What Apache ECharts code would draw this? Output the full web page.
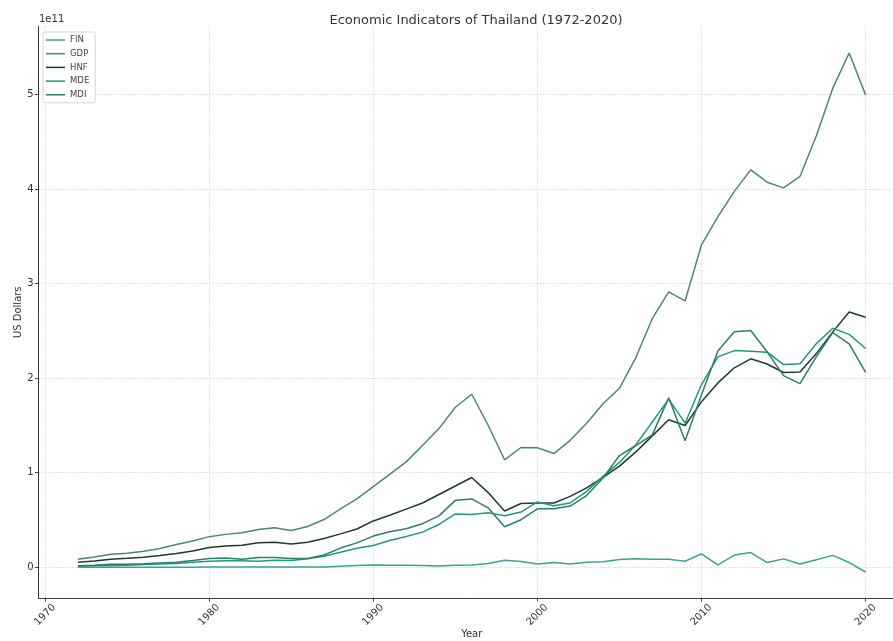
<!DOCTYPE html>
<html>
<head>
<meta charset="utf-8">
<script src="https://cdn.jsdelivr.net/npm/echarts@6/dist/echarts.min.js"></script>
<style>html,body{margin:0;padding:0;background:#fff;}#c{width:893px;height:641px;}</style>
</head>
<body>
<div id="c"></div>
<script>
// Years (x axis)
const years = [1972,1973,1974,1975,1976,1977,1978,1979,1980,1981,1982,1983,1984,1985,1986,1987,1988,1989,1990,1991,1992,1993,1994,1995,1996,1997,1998,1999,2000,2001,2002,2003,2004,2005,2006,2007,2008,2009,2010,2011,2012,2013,2014,2015,2016,2017,2018,2019,2020];
// Series values in billions of US dollars
const FIN = [0.07,0.08,0.19,0.09,0.08,0.11,0.05,0.05,0.19,0.29,0.19,0.35,0.40,0.16,0.26,0.35,1.11,1.78,2.44,2.01,2.11,1.80,1.37,2.07,2.34,3.89,7.32,6.10,3.35,5.07,3.34,5.23,5.86,8.22,8.9,8.6,8.5,6.41,14.3,2.5,12.9,15.6,5.0,8.9,3.4,7.9,12.6,5.0,-5.0];
const GDP = [8.4,10.8,13.7,14.9,17.0,19.8,24.1,27.8,32.4,34.8,36.6,40.0,41.8,38.9,43.1,50.5,61.7,72.3,85.3,98.2,111.5,128.9,146.7,169.3,183.0,150.2,113.7,126.7,126.4,120.3,134.3,152.3,172.9,189.3,221.8,262.9,291.4,281.7,341.1,370.8,397.6,420.3,407.3,401.3,413.4,456.4,506.8,544.0,499.7];
const HNF = [5.3,6.7,8.5,9.5,10.7,12.4,14.6,17.2,21.0,22.5,23.2,26.0,26.5,24.5,26.5,30.5,35.3,40.5,49.0,55.0,61.5,68.0,77.0,86.0,95.0,79.0,59.5,67.5,68.0,68.0,75.0,84.0,95.0,107.0,122.0,139.0,156.0,150.0,175.0,195.0,211.0,220.5,215.0,206.0,206.5,226.0,249.0,270.0,264.5];
const MDE = [1.1,1.6,2.5,2.2,3.0,3.5,4.1,5.3,6.5,7.0,7.0,6.4,7.4,7.1,8.9,11.7,16.0,20.1,23.1,28.4,32.5,37.2,45.3,56.4,55.9,57.6,54.5,58.4,69.1,65.1,68.1,80.3,96.2,110.9,129.7,153.6,177.8,152.4,193.3,222.6,229.2,228.5,227.5,214.4,215.3,236.6,252.9,246.3,231.4];
const MDI = [1.5,2.1,3.1,3.3,3.6,4.6,5.4,7.2,9.2,9.9,8.6,10.3,10.4,9.2,9.2,13.0,20.3,25.8,33.0,37.6,40.7,46.1,54.4,70.8,72.3,62.9,42.9,50.3,61.9,62.0,64.7,75.8,94.4,118.2,128.8,140.0,179.2,133.8,182.4,228.8,249.1,250.4,227.9,202.7,194.2,222.8,248.2,236.3,206.2];
// Tick labels
const xTicks = [1970,1980,1990,2000,2010,2020];
const yTicks = [0,1,2,3,4,5]; // in units of 1e11

const seriesNames = ['FIN','GDP','HNF','MDE','MDI'];
const seriesData = {FIN, GDP, HNF, MDE, MDI};
const colors = {FIN:'#35a596', GDP:'#4a8779', HNF:'#1c3a31', MDE:'#209a80', MDI:'#2e7d6d'};

const font = 'DejaVu Sans';
const chart = echarts.init(document.getElementById('c'), null, {renderer:'canvas'});

const series = seriesNames.map(n => ({
  name: n,
  type: 'line',
  symbol: 'none',
  showSymbol: false,
  animation: false,
  lineStyle: {width: 1.5, color: colors[n]},
  itemStyle: {color: colors[n]},
  data: years.map((y, i) => [y, seriesData[n][i] * 1e9])
}));

chart.setOption({
  animation: false,
  backgroundColor: '#fff',
  title: {
    text: 'Economic Indicators of Thailand (1972-2020)',
    left: 471, top: 9, textAlign: 'center',
    textStyle: {fontFamily: font, fontSize: 13, fontWeight: 'normal', color: '#333'}
  },
  graphic: [{
    type: 'text', left: 39, top: 14,
    style: {text: '1e11', font: '10px "DejaVu Sans"', fill: '#333'}
  }],
  legend: {
    orient: 'vertical', left: 43, top: 32,
    data: seriesNames,
    icon: 'rect',
    itemWidth: 19, itemHeight: 1.5, itemGap: 3.7,
    padding: [3, 6, 3, 3],
    borderColor: '#d5d5d5', borderWidth: 1, borderRadius: 2,
    backgroundColor: 'rgba(255,255,255,0.8)',
    textStyle: {fontFamily: font, fontSize: 8.5, color: '#444', lineHeight: 10}
  },
  grid: {left: 38.5, right: -12, top: 26.5, bottom: 43, containLabel: false, outerBoundsMode: 'none'},
  xAxis: {
    type: 'value',
    min: 1969.6, max: 2022.4,
    name: 'Year', nameLocation: 'middle', nameGap: 31, nameMoveOverlap: false,
    nameTextStyle: {fontFamily: font, fontSize: 10, color: '#333'},
    axisLine: {show: true, onZero: false, lineStyle: {color: '#444', width: 1}},
    axisTick: {show: true, length: 3.5, customValues: xTicks, lineStyle: {color: '#444'}},
    axisLabel: {
      customValues: xTicks, rotate: 45, margin: 17,
      align: 'center', verticalAlign: 'middle',
      fontFamily: font, fontSize: 10, color: '#333',
      formatter: v => String(Math.round(v))
    },
    splitLine: {show: true, lineStyle: {color: '#cfcfcf', type: [1.5, 1.5], width: 0.8}}
  },
  yAxis: {
    type: 'value',
    min: -0.325e11, max: 5.72e11,
    name: 'US Dollars', nameLocation: 'middle', nameGap: 15, nameMoveOverlap: false,
    nameTextStyle: {fontFamily: font, fontSize: 10, color: '#333'},
    axisLine: {show: true, onZero: false, lineStyle: {color: '#333', width: 1}},
    axisTick: {show: true, length: 3.5, customValues: yTicks.map(v => v * 1e11), lineStyle: {color: '#444'}},
    axisLabel: {
      customValues: yTicks.map(v => v * 1e11), margin: 5,
      fontFamily: font, fontSize: 10, color: '#333',
      formatter: v => String(Math.round(v / 1e11))
    },
    splitLine: {show: true, lineStyle: {color: '#cfcfcf', type: [1.5, 1.5], width: 0.8}}
  },
  series: series
});
</script>
</body>
</html>
